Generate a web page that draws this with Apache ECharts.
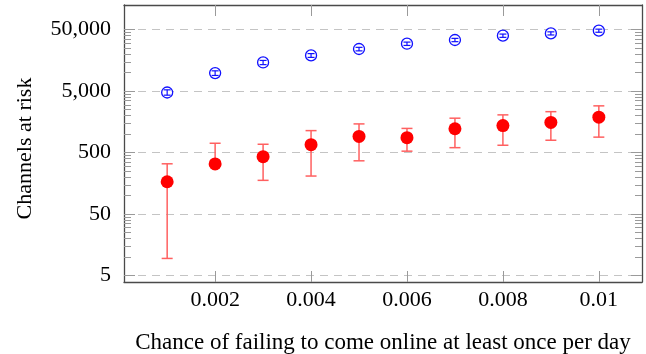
<!DOCTYPE html>
<html>
<head>
<meta charset="utf-8">
<script src="https://cdn.jsdelivr.net/npm/echarts@6/dist/echarts.min.js"></script>
<style>
html,body{margin:0;padding:0;background:#fff;}
#chart{width:646px;height:354px;}
</style>
</head>
<body>
<div id="chart"></div>
<script>
// ---- data ----
const xValues   = [0.001, 0.002, 0.003, 0.004, 0.005, 0.006, 0.007, 0.008, 0.009, 0.01];
const blueMean  = [4750, 9840, 14650, 19050, 24230, 29560, 33970, 39930, 43520, 48170];
const blueLow   = [4300, 9000, 13500, 17700, 22600, 27700, 31900, 37500, 41000, 45400];
const blueHigh  = [5250, 10700, 15800, 20400, 25800, 31400, 36100, 42400, 46100, 51000];
const redMean   = [168, 327, 430, 674, 917, 876, 1224, 1375, 1551, 1886];
const redLow    = [9.5, 300, 177, 208, 368, 528, 602, 659, 795, 893];
const redHigh   = [329, 710, 684, 1140, 1466, 1238, 1816, 2056, 2318, 2882];
const xTicks    = [0.002, 0.004, 0.006, 0.008, 0.01];
const yMajor    = [5, 50, 500, 5000, 50000];
const yMinor    = [10, 15, 20, 25, 30, 35, 40, 45,
                   100, 150, 200, 250, 300, 350, 400, 450,
                   1000, 1500, 2000, 2500, 3000, 3500, 4000, 4500,
                   10000, 15000, 20000, 25000, 30000, 35000, 40000, 45000];
const xLabelText = 'Chance of failing to come online at least once per day';
const yLabelText = 'Channels at risk';

// ---- chart ----
const FONT = '"Liberation Serif", "Times New Roman", serif';
const AXIS_COLOR = '#4a4a4a';
const TICK_COLOR = '#9a9a9a';
const X_MIN = 0.0001, X_MAX = 0.0109;
const Y_MIN = 3.93, Y_MAX = 126000;

const chart = echarts.init(document.getElementById('chart'), null, {renderer: 'canvas'});

function errData(lo, hi) {
  return xValues.map((x, i) => [x, lo[i], hi[i]]);
}
function errRender(cap, color, width) {
  return function (params, api) {
    const x = api.value(0);
    const p1 = api.coord([x, api.value(1)]);
    const p2 = api.coord([x, api.value(2)]);
    const st = {stroke: color, lineWidth: width};
    return {
      type: 'group',
      children: [
        {type: 'line', shape: {x1: p1[0], y1: p1[1], x2: p2[0], y2: p2[1]}, style: st},
        {type: 'line', shape: {x1: p1[0] - cap, y1: p1[1], x2: p1[0] + cap, y2: p1[1]}, style: st},
        {type: 'line', shape: {x1: p2[0] - cap, y1: p2[1], x2: p2[0] + cap, y2: p2[1]}, style: st}
      ]
    };
  };
}

function yAxisDef(pos, ticks, len, opts) {
  return Object.assign({
    type: 'log', logBase: 10, min: Y_MIN, max: Y_MAX, position: pos,
    axisLine: {show: false},
    axisTick: {show: true, inside: true, length: len, customValues: ticks,
               lineStyle: {color: TICK_COLOR, width: 1}},
    axisLabel: {show: false},
    splitLine: {show: false},
    minorTick: {show: false}, minorSplitLine: {show: false}
  }, opts || {});
}

const option = {
  animation: false,
  backgroundColor: '#fff',
  grid: {left: 124, right: 4, top: 5, bottom: 72, containLabel: false, outerBoundsMode: 'none'},
  xAxis: [
    {
      type: 'value', min: X_MIN, max: X_MAX, position: 'bottom',
      name: xLabelText, nameLocation: 'middle', nameGap: 49,
      nameTextStyle: {fontFamily: FONT, fontSize: 23, color: '#000'},
      axisLine: {show: true, onZero: false, lineStyle: {color: AXIS_COLOR, width: 1.3}},
      axisTick: {show: true, inside: true, length: 11, customValues: xTicks,
                 lineStyle: {color: TICK_COLOR, width: 1}},
      axisLabel: {show: true, customValues: xTicks, margin: 7,
                  fontFamily: FONT, fontSize: 22, color: '#000',
                  formatter: v => String(+(+v).toFixed(4))},
      splitLine: {show: false}
    },
    {
      type: 'value', min: X_MIN, max: X_MAX, position: 'top',
      axisLine: {show: true, onZero: false, lineStyle: {color: AXIS_COLOR, width: 1.3}},
      axisTick: {show: true, inside: true, length: 11, customValues: xTicks,
                 lineStyle: {color: TICK_COLOR, width: 1}},
      axisLabel: {show: false},
      splitLine: {show: false}
    }
  ],
  yAxis: [
    yAxisDef('left', yMajor, 11, {
      name: yLabelText, nameLocation: 'middle', nameGap: 88, nameRotate: 90,
      nameTextStyle: {fontFamily: FONT, fontSize: 22, color: '#000', padding: [0, 10, 0, 0]},
      axisLine: {show: true, onZero: false, lineStyle: {color: AXIS_COLOR, width: 1.3}},
      axisLabel: {show: true, customValues: yMajor, margin: 13,
                  fontFamily: FONT, fontSize: 22, color: '#000',
                  formatter: v => Math.round(v).toLocaleString('en-US')},
      splitLine: {show: true, lineStyle: {color: '#c4c4c4', width: 1.2, type: [8, 6]}}
    }),
    yAxisDef('left', yMinor, 7),
    yAxisDef('right', yMajor, 11, {
      axisLine: {show: true, onZero: false, lineStyle: {color: AXIS_COLOR, width: 1.3}}
    }),
    yAxisDef('right', yMinor, 7)
  ],
  series: [
    {
      type: 'scatter', xAxisIndex: 0, yAxisIndex: 0, z: 2,
      symbol: 'circle', symbolSize: 11,
      itemStyle: {color: '#ffffff', borderColor: '#1010ff', borderWidth: 1.3, opacity: 1},
      data: xValues.map((x, i) => [x, blueMean[i]])
    },
    {
      type: 'custom', xAxisIndex: 0, yAxisIndex: 0, z: 3,
      renderItem: errRender(3.5, '#1010ff', 1.2),
      data: errData(blueLow, blueHigh)
    },
    {
      type: 'custom', xAxisIndex: 0, yAxisIndex: 0, z: 3,
      renderItem: errRender(5.5, '#ff6060', 1.5),
      data: errData(redLow, redHigh)
    },
    {
      type: 'scatter', xAxisIndex: 0, yAxisIndex: 0, z: 4,
      symbol: 'circle', symbolSize: 13,
      itemStyle: {color: '#ff0000', opacity: 1},
      data: xValues.map((x, i) => [x, redMean[i]])
    }
  ]
};
chart.setOption(option);
</script>
</body>
</html>
